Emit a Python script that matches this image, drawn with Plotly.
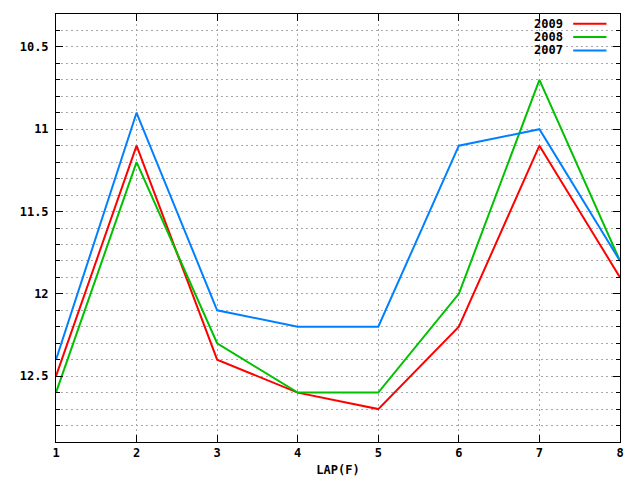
import plotly.graph_objects as go

# lap times per year (y axis reversed, smaller is better)
laps = [1, 2, 3, 4, 5, 6, 7, 8]
y2009 = [12.5, 11.1, 12.4, 12.6, 12.7, 12.2, 11.1, 11.9]
y2008 = [12.6, 11.2, 12.3, 12.6, 12.6, 12.0, 10.7, 11.8]
y2007 = [12.4, 10.9, 12.1, 12.2, 12.2, 11.1, 11.0, 11.8]

series = [("2009", y2009, "#ff0000"), ("2008", y2008, "#00c000"), ("2007", y2007, "#0080ff")]

fnt = dict(family="DejaVu Sans Mono", size=12, color="black", weight="bold")

fig = go.Figure()
for name, vals, col in series:
    fig.add_trace(go.Scatter(x=laps, y=vals, mode="lines", name=name,
                             line=dict(color=col, width=2), showlegend=False))

# gnuplot style key: text then sample line on the right
for i, (name, vals, col) in enumerate(series):
    yy = 0.977 - i * 0.031
    fig.add_annotation(x=0.903, y=yy, xref="paper", yref="paper", text=name,
                       showarrow=False, xanchor="right", yanchor="middle", font=fnt)
    fig.add_shape(type="line", xref="paper", yref="paper", x0=0.917, x1=0.976,
                  y0=yy, y1=yy, line=dict(color=col, width=2))

grid = dict(showgrid=True, gridcolor="#a8a8a8", griddash="2px,3px", gridwidth=1)

fig.update_layout(
    width=632, height=472,
    margin=dict(l=48, r=20, t=5, b=32),
    plot_bgcolor="white", paper_bgcolor="white",
    font=fnt,
    xaxis=dict(range=[1, 8], dtick=1, title=dict(text="LAP(F)", font=fnt, standoff=6),
               ticks="inside", ticklen=7, tickcolor="black", showline=True,
               linecolor="black", linewidth=1, mirror="allticks", zeroline=False, **grid),
    yaxis=dict(range=[12.9, 10.3], tickvals=[10.5, 11, 11.5, 12, 12.5],
               ticktext=["10.5", "11", "11.5", "12", "12.5"], ticklabelstandoff=4,
               ticks="inside", ticklen=7, tickcolor="black", showline=True,
               linecolor="black", linewidth=1, mirror="allticks", zeroline=False,
               minor=dict(dtick=0.1, ticks="inside", ticklen=4, tickcolor="black",
                          showgrid=True, gridcolor="#a8a8a8", griddash="2px,3px"),
               **grid),
)

fig.write_html("out.html")
